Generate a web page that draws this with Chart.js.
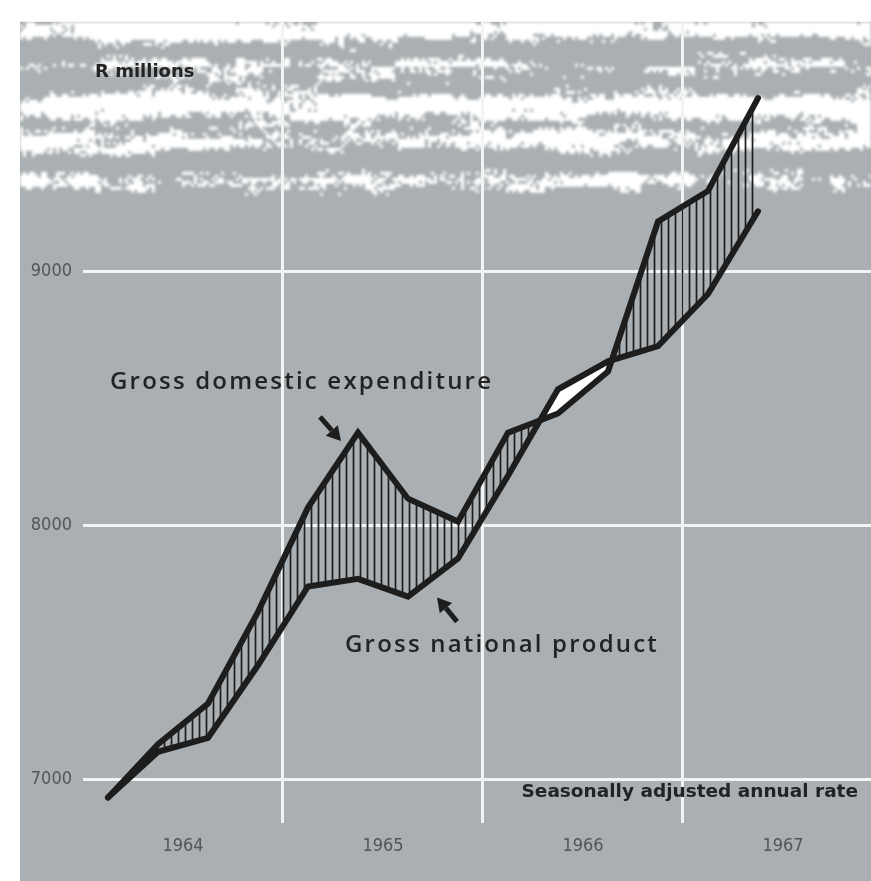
<!DOCTYPE html>
<html>
<head>
<meta charset="utf-8">
<title>Gross domestic expenditure and gross national product</title>
<script src="https://cdn.jsdelivr.net/npm/chart.js@4.4.1/dist/chart.umd.min.js"></script>
<style>
  html, body { margin: 0; padding: 0; background: #fff; overflow: hidden; }
  canvas { display: block; }
</style>
</head>
<body>
<canvas id="gdeChart" width="871" height="881"></canvas>
<script>

// data, R millions, seasonally adjusted annual rate
var quarters = ['1964 Q1', '1964 Q2', '1964 Q3', '1964 Q4',
                '1965 Q1', '1965 Q2', '1965 Q3', '1965 Q4',
                '1966 Q1', '1966 Q2', '1966 Q3', '1966 Q4',
                '1967 Q1', '1967 Q2'];
var grossDomesticExpenditure = [6930, 7140, 7300, 7660, 8070, 8365, 8105, 8015, 8365, 8440, 8605, 9195, 9315, 9680];
var grossNationalProduct     = [6930, 7110, 7165, 7450, 7760, 7790, 7720, 7870, 8195, 8535, 8645, 8705, 8910, 9235];
var years = [1964, 1965, 1966, 1967];
var valueTicks = [7000, 8000, 9000];

// quarter label -> position on a year axis (middle of the quarter)
function quarterPos(label) {
	var p = label.split(' Q');
	return Number(p[0]) + (Number(p[1]) - 0.5) / 4;
}

function toPoints(values) {
	return values.map(function(v, i) {
		return { x: quarterPos(quarters[i]), y: v };
	});
}

var panelGrey = '#a9afb2';
var gridWhite = '#f2f3f3';
var ink = '#1d1d1d';
var tickFont = "'DejaVu Sans Condensed', 'Liberation Sans Narrow', sans-serif";

// vertical hatching between the two lines
function hatchPattern() {
	var c = document.createElement('canvas');
	c.width = 7; c.height = 8;
	var g = c.getContext('2d');
	g.strokeStyle = ink;
	g.lineWidth = 1.7;
	g.beginPath();
	g.moveTo(3.5, 0);
	g.lineTo(3.5, 8);
	g.stroke();
	return g.createPattern(c, 'repeat');
}

// cheap repeatable noise for the worn band at the top of the plate
function hash(i, j) {
	var s = Math.sin(i * 127.1 + j * 311.7) * 43758.5453;
	return s - Math.floor(s);
}

var platePlugin = {
	id: 'plate',
	beforeDraw: function(chart) {
		var ctx = chart.ctx, area = chart.chartArea;
		ctx.save();
		ctx.fillStyle = '#ffffff';
		ctx.fillRect(0, 0, chart.width, chart.height);
		ctx.fillStyle = panelGrey;
		ctx.fillRect(20, area.top, chart.width - 20, chart.height - area.top);

		// worn band
		var bw = chart.width - 20, bh = 178;
		var off = document.createElement('canvas');
		off.width = bw; off.height = bh;
		var g = off.getContext('2d');
		g.fillStyle = '#ffffff';
		for (var r = 0; r < bh / 3; r++) {
			var streak = Math.sin(r * 0.5 + 0.4) + 0.7 * Math.sin(r * 0.19 + 2.1);
			var fade = r > 52 ? (r - 52) * 0.06 : 0;
			for (var c = 0; c < bw / 3; c++) {
				var n = hash(c, r) * 0.45 +
					hash(Math.floor(c / 9), Math.floor(r / 3)) * 0.45 +
					hash(Math.floor(c / 25) + 50, Math.floor(r / 5) + 7) * 0.35;
				if (n + 0.3 * streak - fade > 0.68) g.fillRect(c * 3, r * 3, 3, 3);
			}
		}
		ctx.filter = 'blur(1.6px)';
		ctx.drawImage(off, 20, area.top);
		ctx.filter = 'none';
		ctx.restore();
	}
};

function drawArrow(ctx, x1, y1, x2, y2) {
	var a = Math.atan2(y2 - y1, x2 - x1);
	var head = 14, half = 8;
	var bx = x2 - Math.cos(a) * head, by = y2 - Math.sin(a) * head;
	ctx.strokeStyle = ink;
	ctx.fillStyle = ink;
	ctx.lineWidth = 5;
	ctx.beginPath();
	ctx.moveTo(x1, y1);
	ctx.lineTo(bx, by);
	ctx.stroke();
	ctx.beginPath();
	ctx.moveTo(x2, y2);
	ctx.lineTo(bx + Math.sin(a) * half, by - Math.cos(a) * half);
	ctx.lineTo(bx - Math.sin(a) * half, by + Math.cos(a) * half);
	ctx.closePath();
	ctx.fill();
}

var notesPlugin = {
	id: 'notes',
	afterDatasetsDraw: function(chart) {
		var ctx = chart.ctx, xs = chart.scales.x, ys = chart.scales.y;
		function px(x) { return xs.getPixelForValue(x); }
		function py(y) { return ys.getPixelForValue(y); }
		ctx.save();
		ctx.fillStyle = '#232323';
		ctx.textBaseline = 'alphabetic';

		ctx.font = "bold 18px 'DejaVu Sans', sans-serif";
		ctx.textAlign = 'left';
		ctx.fillText('R millions', px(1964.06), py(9764));

		ctx.font = "bold 18.5px 'DejaVu Sans', sans-serif";
		ctx.textAlign = 'right';
		ctx.fillText('Seasonally adjusted annual rate', px(1967.875), py(6932));

		ctx.font = "600 24px 'Open Sans', sans-serif";
		ctx.letterSpacing = '2.2px';
		ctx.textAlign = 'left';
		ctx.fillText('Gross domestic expenditure', px(1964.135), py(8536));
		ctx.fillText('Gross national product', px(1965.31), py(7501));
		ctx.letterSpacing = '0px';

		drawArrow(ctx, px(1965.185), py(8427), px(1965.29), py(8332));
		drawArrow(ctx, px(1965.87), py(7622), px(1965.77), py(7717));
		ctx.restore();
	}
};

var ctx = document.getElementById('gdeChart').getContext('2d');

var chart = new Chart(ctx, {
	type: 'line',
	data: {
		datasets: [
			{
				label: 'Gross domestic expenditure',
				data: toPoints(grossDomesticExpenditure),
				borderColor: ink,
				borderWidth: 6,
				borderJoinStyle: 'miter',
				borderCapStyle: 'round',
				pointRadius: 0,
				tension: 0,
				fill: { target: 1, above: hatchPattern(), below: '#ffffff' }
			},
			{
				label: 'Gross national product',
				data: toPoints(grossNationalProduct),
				borderColor: ink,
				borderWidth: 6,
				borderJoinStyle: 'miter',
				borderCapStyle: 'round',
				pointRadius: 0,
				tension: 0,
				fill: false
			}
		]
	},
	options: {
		responsive: false,
		animation: false,
		events: [],
		layout: { padding: { top: 20, left: 0, right: 0, bottom: 0 } },
		plugins: {
			legend: { display: false },
			tooltip: { enabled: false },
			filler: { drawTime: 'beforeDatasetsDraw' }
		},
		scales: {
			x: {
				type: 'linear',
				min: 1964,
				max: 1967.94,
				afterBuildTicks: function(scale) {
					var t = [];
					years.forEach(function(y) {
						t.push({ value: y });
						t.push({ value: y + 0.5 });
					});
					scale.ticks = t;
				},
				afterFit: function(scale) { scale.height = 58; },
				border: { display: false },
				grid: {
					drawTicks: false,
					lineWidth: 3,
					color: function(c) {
						var v = c.tick ? c.tick.value : 0;
						return (v % 1 === 0 && v > years[0]) ? gridWhite : 'rgba(0,0,0,0)';
					}
				},
				ticks: {
					autoSkip: false,
					maxRotation: 0,
					padding: 13,
					color: '#50565a',
					font: { family: tickFont, size: 18 },
					callback: function(v) {
						return (v % 1 === 0.5) ? String(Math.floor(v)) : '';
					}
				}
			},
			y: {
				min: 6830,
				max: 9980,
				afterBuildTicks: function(scale) {
					scale.ticks = valueTicks.map(function(v) { return { value: v }; });
				},
				afterFit: function(scale) { scale.width = 83; },
				border: { display: false },
				grid: { drawTicks: false, lineWidth: 3, color: gridWhite },
				ticks: {
					padding: 11,
					color: '#50565a',
					font: { family: tickFont, size: 18 },
					callback: function(v) { return String(v); }
				}
			}
		}
	},
	plugins: [platePlugin, notesPlugin]
});
</script>
</body>
</html>
